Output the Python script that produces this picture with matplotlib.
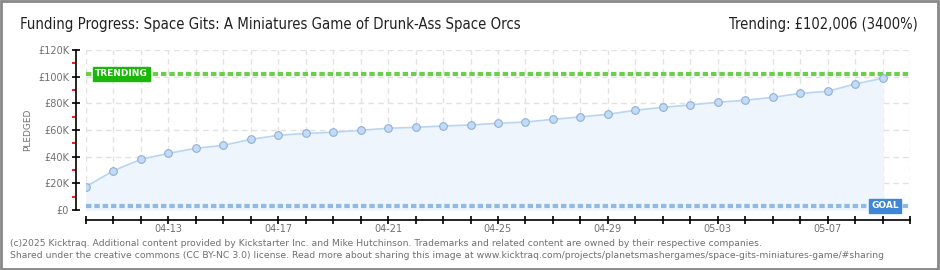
import matplotlib
matplotlib.use("Agg")
import matplotlib.pyplot as plt
import matplotlib.dates as mdates
import pandas as pd

# funding data (GBP)
dates = ["2025-04-10", "2025-04-11", "2025-04-12", "2025-04-13", "2025-04-14",
         "2025-04-15", "2025-04-16", "2025-04-17", "2025-04-18", "2025-04-19",
         "2025-04-20", "2025-04-21", "2025-04-22", "2025-04-23", "2025-04-24",
         "2025-04-25", "2025-04-26", "2025-04-27", "2025-04-28", "2025-04-29",
         "2025-04-30", "2025-05-01", "2025-05-02", "2025-05-03", "2025-05-04",
         "2025-05-05", "2025-05-06", "2025-05-07", "2025-05-08", "2025-05-09"]
pledged = [17500, 29500, 38000, 42500, 46300, 48500, 53000, 56000, 57500, 58300,
           59800, 61300, 62000, 63000, 63800, 65000, 66000, 68000, 69800, 71800,
           74800, 77000, 78800, 80800, 82300, 84500, 87500, 89000, 94500, 98800]
goal = 3000
trending = 102006
y_ticks = [0, 20000, 40000, 60000, 80000, 100000, 120000]
y_tick_labels = ["£0", "£20K", "£40K", "£60K", "£80K", "£100K", "£120K"]
x_label_dates = ["2025-04-13", "2025-04-17", "2025-04-21", "2025-04-25",
                 "2025-04-29", "2025-05-03", "2025-05-07"]

title = "Funding Progress: Space Gits: A Miniatures Game of Drunk-Ass Space Orcs"
trend_text = "Trending: £102,006 (3400%)"
footer1 = ("(c)2025 Kicktraq. Additional content provided by Kickstarter Inc. and Mike "
           "Hutchinson. Trademarks and related content are owned by their respective companies.")
footer2 = ("Shared under the creative commons (CC BY-NC 3.0) license. Read more about sharing "
           "this image at www.kicktraq.com/projects/planetsmashergames/space-gits-miniatures-game/#sharing")

x = pd.to_datetime(dates)
x_start = pd.Timestamp("2025-04-10")
x_end = pd.Timestamp("2025-05-10")

fig = plt.figure(figsize=(9.4, 2.7), dpi=100)
ax = fig.add_axes([86 / 940, 1 - 210 / 270, (910 - 86) / 940, 160 / 270])

grey = "#707070"

# fill + line + markers
ax.fill_between(x, pledged, 0, color="#eef5fd", zorder=1)
ax.plot(x, pledged, color="#b9d5f2", linewidth=1.2, zorder=3)
ax.plot(x, pledged, linestyle="none", marker="o", markersize=5.5,
        markerfacecolor="#c3dbf6", markeredgecolor="#8fb0d6", markeredgewidth=0.8, zorder=4)

# trending and goal lines
ax.axhline(trending, color="#6ccf4c", linewidth=3, linestyle=(0, (1.3, 0.7)), zorder=2)
ax.axhline(goal, color="#91b9e3", linewidth=3, linestyle=(0, (1.3, 0.7)), zorder=2)

ax.text(pd.Timestamp("2025-04-10 08:00"), trending, "TRENDING", color="white",
        fontsize=6.5, fontweight="bold", va="center", ha="left", zorder=6,
        bbox=dict(boxstyle="square,pad=0.25", facecolor="#1bb80a", edgecolor="#1bb80a"))
ax.text(pd.Timestamp("2025-05-08 14:00"), goal, "GOAL", color="white",
        fontsize=6.5, fontweight="bold", va="center", ha="left", zorder=6,
        bbox=dict(boxstyle="square,pad=0.25", facecolor="#3f87d6", edgecolor="#3f87d6"))

ax.set_xlim(x_start, x_end)
ax.set_ylim(0, 120000)

# grid
ax.set_yticks(y_ticks)
ax.set_yticklabels(y_tick_labels)
ax.set_yticks(range(10000, 120000, 20000), minor=True)
ax.xaxis.set_major_locator(mdates.DayLocator())
label_set = set(pd.to_datetime(x_label_dates))
ax.xaxis.set_major_formatter(plt.FuncFormatter(
    lambda v, p: mdates.num2date(v).strftime("%m-%d")
    if pd.Timestamp(mdates.num2date(v).date()) in label_set else ""))
ax.grid(True, which="major", color="#e2e2e2", linestyle=(0, (4, 3)), linewidth=1, zorder=0)
ax.set_axisbelow(True)

for s in ["top", "right"]:
    ax.spines[s].set_visible(False)
ax.spines["left"].set_position(("outward", 7.2))
ax.spines["bottom"].set_position(("outward", 7.2))
ax.spines["left"].set_bounds(0, 120000)
ax.spines["left"].set_linewidth(1.2)
ax.spines["bottom"].set_linewidth(1.2)

ax.tick_params(axis="y", which="major", direction="inout", length=6, width=1.2,
               labelsize=7, labelcolor=grey, pad=2)
ax.tick_params(axis="y", which="minor", direction="out", length=3, width=1.2, color="#dd0000")
ax.tick_params(axis="x", which="major", direction="inout", length=6, width=1.2,
               labelsize=7, labelcolor=grey, pad=0)

fig.text(28 / 940, 1 - 130 / 270, "PLEDGED", rotation=90, color=grey, fontsize=6.5,
         ha="center", va="center")

fig.text(20 / 940, 1 - 25 / 270, title, fontsize=10.7, color="#222222",
         ha="left", va="center", fontstretch="condensed")
fig.text(918 / 940, 1 - 25 / 270, trend_text, fontsize=10.5, color="#222222",
         ha="right", va="center", fontstretch="condensed")

fig.text(10 / 940, 1 - 243 / 270, footer1, fontsize=6.65, color=grey, ha="left", va="center")
fig.text(10 / 940, 1 - 256 / 270, footer2, fontsize=6.65, color=grey, ha="left", va="center")

# outer frame
fig.patches.append(plt.Rectangle((0.001, 0.002), 0.997, 0.995, transform=fig.transFigure,
                                 fill=False, edgecolor="#888888", linewidth=2))

fig.savefig("out.png", dpi=100)
